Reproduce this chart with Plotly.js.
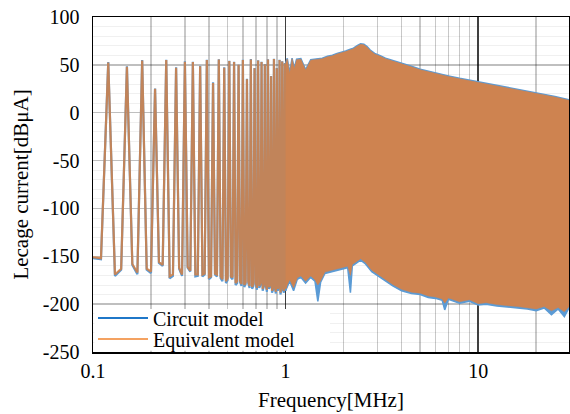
<!DOCTYPE html>
<html>
<head>
<meta charset="utf-8">
<script src="https://cdn.plot.ly/plotly-3.0.1.min.js"></script>
<style>
html,body{margin:0;padding:0;background:#fff;}
#chart{width:570px;height:414px;}
</style>
</head>
<body>
<div id="chart"></div>
<script>
// ---- Data ----
// Low-frequency region, sampled every 10 kHz (MHz)
const freqLow = [0.10,0.11,0.12,0.13,0.14,0.15,0.16,0.17,0.18,0.19,
  0.20,0.21,0.22,0.23,0.24,0.25,0.26,0.27,0.28,0.29,
  0.30,0.31,0.32,0.33,0.34,0.35,0.36,0.37,0.38,0.39,
  0.40,0.41,0.42,0.43,0.44,0.45,0.46,0.47,0.48,0.49,
  0.50,0.51,0.52,0.53,0.54,0.55,0.56,0.57,0.58,0.59,
  0.60,0.61,0.62,0.63,0.64,0.65,0.66,0.67,0.68,0.69,
  0.70,0.71,0.72,0.73,0.74,0.75,0.76,0.77,0.78,0.79,
  0.80,0.81,0.82,0.83,0.84,0.85,0.86,0.87,0.88,0.89,
  0.90,0.91,0.92,0.93,0.94,0.95,0.96,0.97,0.98,0.99,1.00];

const circuitLow = [-152,-153,53,-170.5,-164,48.5,-159,-168.7,55,-164,
  -167.5,25.4,-157,-160,55.4,-173,-170.5,47.4,-163,-170.5,
  53.7,-162,-166,53.3,-171,-170.5,49,-171,-169,55.4,
  -174,-172,31.7,-169,-171,55.8,-173,-176,47.4,-178,
  -175,54.4,-172,-174,53.3,-180,-178,50.2,-177,-181,
  55.4,-182,-179,35.6,-178,-183,56,-184,-181,46.7,
  -179,-185,54.7,-183,-180,53.3,-186,-182,50.9,-181,
  -187,55.8,-184,-182,38.3,-188,-185,56.5,-183,-189,
  46.7,-186,-183,55.4,-190,-185,53.7,-184,-188,52,-186];

const equivLow = [-151,-152,52.5,-169,-163,48,-158,-167,54.5,-163,
  -166,25,-156,-159,55,-171,-169,47,-162,-169,
  53.3,-161,-165,53,-169,-169,48.5,-169,-168,55,
  -172,-171,31,-168,-169,55.5,-171,-174,47,-176,
  -173,54,-171,-172,53,-178,-176,50,-175,-179,
  55,-180,-177,35,-176,-181,55.5,-182,-179,46.5,
  -177,-183,54.5,-181,-178,53,-184,-180,50.5,-179,
  -185,55.5,-182,-180,38,-186,-183,56,-181,-187,
  46.5,-184,-181,55,-188,-183,53.5,-182,-186,51.5,-184];

// Dense region (> 1 MHz): upper envelope of the harmonics
const envFreqUpper = [1.0,1.02,1.05,1.08,1.11,1.14,1.2,1.27,1.35,1.45,
  1.55,1.65,1.75,1.85,1.95,2.05,2.15,2.25,2.35,2.45,
  2.55,2.65,2.75,2.9,3.1,3.3,3.6,4.0,4.5,5.0,
  6,7,8,10,12,15,20,25,29.6];
const circuitUpper = [52,56.8,41.5,57,46.7,56,56.5,45,55.5,56,
  57,59,60,62,63,64.5,66,67.5,70,72,
  71.5,69,65.5,62,59.5,57,54.5,52,48.5,45.5,
  41.5,38.5,36,32.4,29.5,25.8,20.6,17,13.5];
const equivUpper = [51.5,56.2,41,56.4,46.2,55.4,55.9,44.6,54.9,55.4,
  56.4,58.4,59.4,61.4,62.4,63.9,65.4,66.9,69.4,71.4,
  70.9,68.4,64.9,61.4,58.9,56.4,53.9,51.4,47.9,44.9,
  40.9,37.9,35.4,31.8,28.9,25.2,20,16.4,12.9];

// Dense region (> 1 MHz): lower envelope of the harmonics
const envFreqLower = [1.0,1.05,1.1,1.15,1.2,1.27,1.35,1.42,1.47,1.52,
  1.6,1.7,1.85,2.0,2.1,2.17,2.22,2.3,2.45,2.6,
  2.8,3.0,3.3,3.6,4.0,4.5,5.0,5.5,6.0,6.5,
  6.7,7.0,8.0,9.0,10,11,12.5,14,16,18,
  20,22,24,26,28,29.6];
const circuitLower = [-186,-176,-186,-174,-172,-178,-172,-176,-197,-177,
  -168,-167,-165,-163,-162,-188,-160,-158,-154,-158,
  -166,-170,-176,-181,-186,-189,-190,-193,-194,-196,
  -206,-195,-199,-197,-201,-200,-202,-203,-204,-205,
  -207,-204,-211,-205,-213,-204];
const equivLower = [-184,-174.5,-183,-172.5,-170.5,-176,-170.5,-174.5,-180,-175.5,
  -166.5,-165.5,-163.5,-161.5,-160.5,-170,-158.5,-156.5,-152.5,-156.5,
  -164.5,-168.5,-174.5,-179.5,-184.5,-187.5,-188.5,-191.5,-192.5,-194.5,
  -199,-193.5,-197.5,-195.5,-199.5,-198.5,-200.5,-201.5,-202.5,-203.5,
  -205,-202.5,-207,-203.5,-208,-202.5];

const seriesNames = ['Circuit model','Equivalent model'];
const xTickVals = [0.1,1,10];
const xTickText = ['0.1','1','10'];
const xMinorVals = [0.2,0.3,0.4,0.5,0.6,0.7,0.8,0.9,2,3,4,5,6,7,8,9,20];
const yTickVals = [100,50,0,-50,-100,-150,-200,-250];
const yTickText = ['100','50','0','-50','-100','-150','-200','-250'];
const yMinorVals = [90,80,70,60,40,30,20,10,-10,-20,-30,-40,-60,-70,-80,-90,
  -110,-120,-130,-140,-160,-170,-180,-190,-210,-220,-230,-240];

// ---- Styles ----
const BLUE = 'rgb(91,155,213)';
const ORANGE_LINE = 'rgba(212,128,68,0.85)';
const ORANGE_FILL = 'rgb(206,131,80)';
const FONT = 'Liberation Serif';

function polygon(xu, yu, xl, yl){
  return {x: xu.concat(xl.slice().reverse()), y: yu.concat(yl.slice().reverse())};
}
const pc = polygon(envFreqUpper, circuitUpper, envFreqLower, circuitLower);
const pe = polygon(envFreqUpper, equivUpper, envFreqLower, equivLower);

const traces = [
  {x: freqLow, y: circuitLow, mode:'lines', line:{color:BLUE, width:2.2}, showlegend:false, hoverinfo:'skip'},
  {x: pc.x, y: pc.y, mode:'lines', fill:'toself', fillcolor:BLUE, line:{color:BLUE, width:1.5}, showlegend:false, hoverinfo:'skip'},
  {x: freqLow, y: equivLow, mode:'lines', line:{color:ORANGE_LINE, width:2.2}, showlegend:false, hoverinfo:'skip'},
  {x: pe.x, y: pe.y, mode:'lines', fill:'toself', fillcolor:ORANGE_FILL, line:{color:ORANGE_FILL, width:0.5}, showlegend:false, hoverinfo:'skip'},
  {x:[null], y:[null], mode:'lines', name: seriesNames[0], line:{color:'#1F77C8', width:2}, legend:'legend'},
  {x:[null], y:[null], mode:'lines', name: seriesNames[1], line:{color:'#F4A261', width:2}, legend:'legend2'}
];

const layout = {
  width:570, height:414,
  margin:{l:93, r:1, t:17, b:62},
  paper_bgcolor:'#fff', plot_bgcolor:'#fff',
  font:{family:FONT, size:20, color:'#000'},
  showlegend:true,
  xaxis:{
    type:'log', range:[-1, Math.log10(29.6)],
    tickmode:'array', tickvals:xTickVals, ticktext:xTickText,
    tickfont:{family:FONT, size:20},
    showgrid:true, gridcolor:'#404040', gridwidth:1.5, griddash:'solid',
    minor:{tickmode:'array', tickvals:xMinorVals, showgrid:true, gridcolor:'#C8C8C8', gridwidth:1.5, griddash:'solid', ticks:''},
    showline:true, linecolor:'#000', linewidth:1.5, mirror:true,
    ticks:'', zeroline:false,
    title:{text:'Frequency[MHz]', font:{family:FONT, size:21}, standoff:12}
  },
  yaxis:{
    range:[-250,100],
    tickmode:'array', tickvals:yTickVals, ticktext:yTickText,
    tickfont:{family:FONT, size:20},
    showgrid:true, gridcolor:'rgba(0,0,0,0.25)', gridwidth:1.5, griddash:'solid',
    minor:{tickmode:'array', tickvals:yMinorVals, showgrid:true, gridcolor:'rgba(0,0,0,0.06)', gridwidth:1, griddash:'solid', ticks:''},
    showline:true, linecolor:'#000', linewidth:1.5, mirror:true,
    ticks:'', zeroline:false, ticklabelstandoff:8,
    title:{text:'Lecage current[dBμA]', font:{family:FONT, size:21}, standoff:8}
  },
  shapes:[{type:'rect', xref:'paper', yref:'paper', x0:0.003, x1:0.498, y0:0.004, y1:0.128,
    fillcolor:'#fff', line:{width:0}, layer:'above'}],
  legend:{x:0, y:0.1015, xanchor:'left', yanchor:'middle', bgcolor:'rgba(0,0,0,0)',
    font:{family:FONT, size:20}, itemwidth:50, borderwidth:0},
  legend2:{x:0, y:0.0388, xanchor:'left', yanchor:'middle', bgcolor:'rgba(0,0,0,0)',
    font:{family:FONT, size:20}, itemwidth:50, borderwidth:0}
};

Plotly.newPlot('chart', traces, layout, {displayModeBar:false, staticPlot:true});
</script>
</body>
</html>
